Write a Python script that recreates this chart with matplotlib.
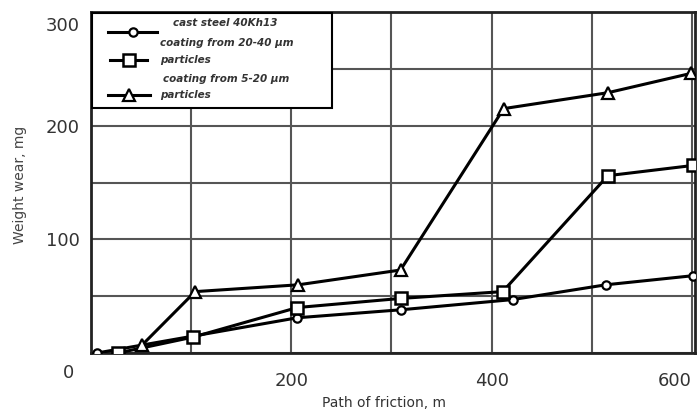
import matplotlib.pyplot as plt
import matplotlib.transforms as mtransforms
from matplotlib.ticker import MultipleLocator, FixedLocator
from matplotlib.lines import Line2D
from matplotlib.patches import Rectangle

# path of friction (m) and weight wear (mg)
steel_x = [6, 206, 309, 421, 514, 601]
steel_y = [0, 31, 38, 47, 60, 68]

coat2040_x = [27, 102, 206, 309, 411, 516, 601]
coat2040_y = [0, 14, 40, 48, 54, 156, 165]

coat520_x = [51, 104, 207, 309, 412, 516, 599]
coat520_y = [7, 54, 60, 73, 215, 229, 246]

xticks = [200, 400, 600]
yticks = [100, 200, 300]

W, H = 698, 412
fig = plt.figure(figsize=(W/100, H/100), dpi=100)
ax = fig.add_axes([91/W, 1-353/H, 604/W, 341/H])

def fx(px):
    return px / W

def fy(py):
    return 1 - py / H

styles = [dict(marker="o", ms=6, mew=1.6),
          dict(marker="s", ms=9, mew=1.8),
          dict(marker="^", ms=8, mew=1.6)]
series = [(steel_x, steel_y), (coat2040_x, coat2040_y), (coat520_x, coat520_y)]

lw = 2.2
for (xs, ys), st in zip(series, styles):
    ax.plot(xs, ys, color="black", lw=lw, mfc="white", mec="black",
            zorder=3, **st)

ax.set_xlim(0, 603)
ax.set_ylim(0, 300)
ax.xaxis.set_major_locator(FixedLocator(xticks))
ax.xaxis.set_minor_locator(MultipleLocator(100))
ax.yaxis.set_major_locator(FixedLocator(yticks))
ax.yaxis.set_minor_locator(MultipleLocator(50))
ax.grid(which="both", color="#555555", lw=1.5)
ax.set_axisbelow(True)
ax.tick_params(which="both", length=0)
ax.tick_params(axis="x", pad=14, labelsize=13, labelcolor="#333333")
ax.tick_params(axis="y", pad=8, labelsize=13, labelcolor="#333333")
for s in ax.spines.values():
    s.set_linewidth(2)
    s.set_color("#222222")

fig.canvas.draw()
ax.get_xticklabels()[-1].set_ha("right")
top_lbl = ax.get_yticklabels()[-1]
top_lbl.set_transform(top_lbl.get_transform() +
                      mtransforms.ScaledTranslation(0, -12/100, fig.dpi_scale_trans))

fig.text(fx(69), fy(373), "0", ha="center", va="center",
         fontsize=13, color="#333333")

ax.set_xlabel("Path of friction, m", fontsize=10, color="#333333")
ax.xaxis.set_label_coords((384-91)/604, (353-396)/341)
ax.set_ylabel("Weight wear, mg", fontsize=10, color="#444444")
ax.yaxis.set_label_coords((27-91)/604, (353-185)/341)

# legend box drawn by hand to follow the original layout
fig.add_artist(Rectangle((fx(92), fy(108)), fx(332)-fx(92), fy(13)-fy(108),
                         transform=fig.transFigure, facecolor="white",
                         edgecolor="black", lw=1.5, zorder=5))
handle_y = [32, 60, 95]
handle_x = [(108, 157), (110, 147), (108, 150)]
for (x0, x1), hy, st in zip(handle_x, handle_y, styles):
    fig.add_artist(Line2D([fx(x0), fx(x1)], [fy(hy), fy(hy)],
                          transform=fig.transFigure, color="black", lw=2.2,
                          zorder=6))
    fig.add_artist(Line2D([fx((x0+x1)/2)], [fy(hy)],
                          transform=fig.transFigure, color="black", lw=0,
                          mfc="white", mec="black", zorder=7, **st))

leg_text = [(173, 23, "cast steel 40Kh13"),
            (160, 43, "coating from 20-40 \u03bcm"),
            (160, 60, "particles"),
            (163, 79, "coating from 5-20 \u03bcm"),
            (160, 95, "particles")]
for tx, ty, s in leg_text:
    fig.text(fx(tx), fy(ty), s, ha="left", va="center", fontsize=7.5,
             style="italic", weight="bold", color="#333333", zorder=8)

fig.savefig("out.png", dpi=100)
